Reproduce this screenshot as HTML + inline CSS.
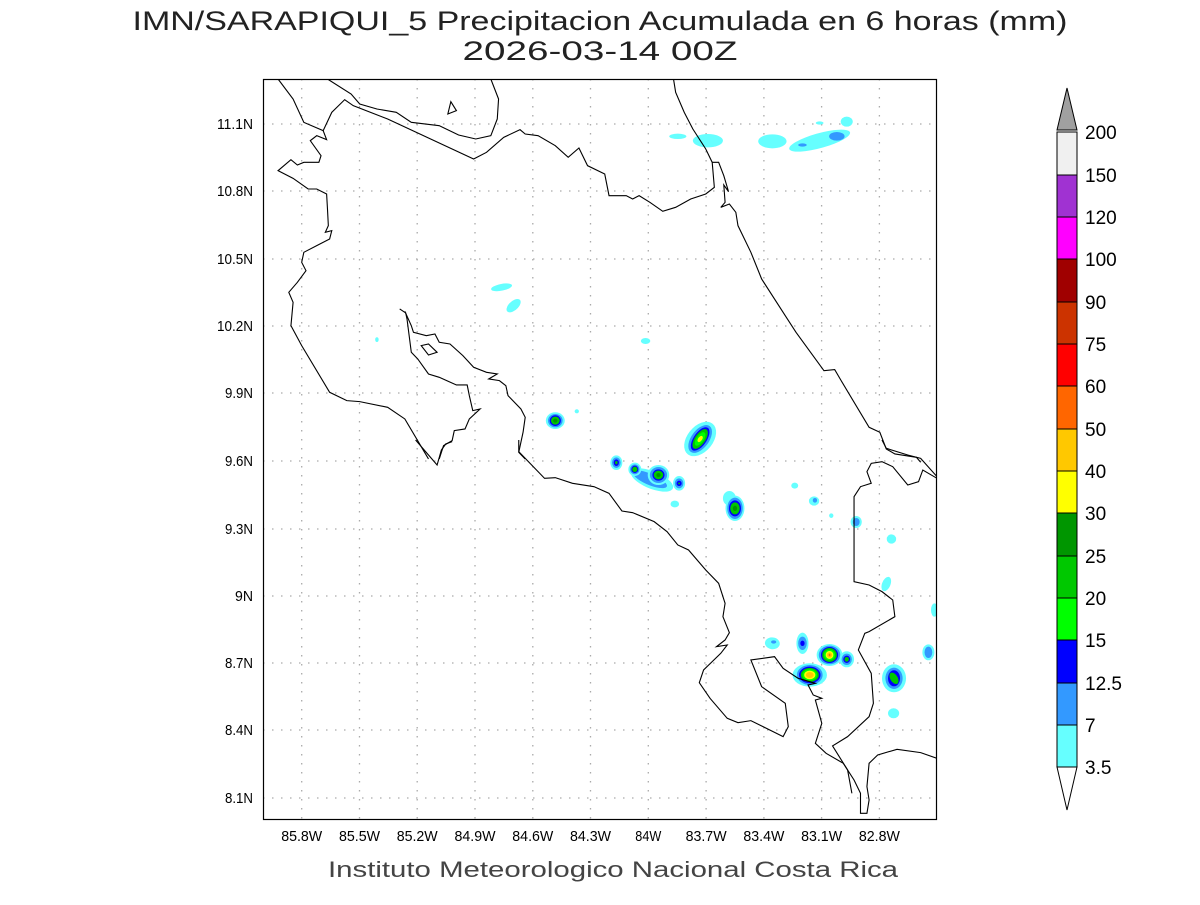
<!DOCTYPE html>
<html><head><meta charset="utf-8"><style>
body{margin:0;background:#fff;width:1200px;height:900px;overflow:hidden}
svg text{font-family:"Liberation Sans","DejaVu Sans",sans-serif}
</style></head><body>
<svg width="1200" height="900" viewBox="0 0 1200 900" xmlns="http://www.w3.org/2000/svg">
<text x="600" y="30" text-anchor="middle" font-size="27" fill="#222" textLength="935" lengthAdjust="spacingAndGlyphs">IMN/SARAPIQUI_5 Precipitacion Acumulada en 6 horas (mm)</text>
<text x="600" y="60" text-anchor="middle" font-size="27" fill="#222" textLength="275" lengthAdjust="spacingAndGlyphs">2026-03-14 00Z</text>
<text x="613" y="877" text-anchor="middle" font-size="22" fill="#444" textLength="570" lengthAdjust="spacingAndGlyphs">Instituto Meteorologico Nacional Costa Rica</text>

<clipPath id="c"><rect x="263" y="79" width="674" height="741"/></clipPath>
<g clip-path="url(#c)">
<g stroke="#aaa" stroke-width="1.3" stroke-dasharray="1.5 7.5">
<path d="M301.7 79V820M359.5 79V820M417.2 79V820M475 79V820M532.8 79V820M590.5 79V820M648.3 79V820M706.1 79V820M763.9 79V820M821.6 79V820M879.4 79V820"/>
<path d="M263 124H937M263 191H937M263 259H937M263 326H937M263 393H937M263 461H937M263 529H937M263 596H937M263 663H937M263 730H937M263 798H937"/>
</g>
<g transform="translate(263,79) scale(0.42985,0.3333)">
<ellipse cx="965" cy="172" rx="20" ry="8" fill="#66ffff"/>
<ellipse cx="1035" cy="185" rx="35" ry="20" fill="#66ffff"/>
<ellipse cx="1185" cy="187" rx="33" ry="21" fill="#66ffff"/>
<ellipse cx="1295" cy="185" rx="75" ry="22" transform="rotate(-20 1295 185)" fill="#66ffff"/>
<ellipse cx="1358" cy="128" rx="14" ry="15" fill="#66ffff"/>
<ellipse cx="1335" cy="172" rx="18" ry="13" fill="#3399ff"/>
<ellipse cx="1255" cy="198" rx="10" ry="5" fill="#3399ff"/>
<ellipse cx="1295" cy="132" rx="9" ry="5" fill="#66ffff"/>
<ellipse cx="555" cy="625" rx="25" ry="10" transform="rotate(-15 555 625)" fill="#66ffff"/>
<ellipse cx="583" cy="680" rx="12" ry="23" transform="rotate(35 583 680)" fill="#66ffff"/>
<ellipse cx="265" cy="782" rx="4" ry="7" fill="#66ffff"/>
<ellipse cx="890" cy="786" rx="11" ry="9" fill="#66ffff"/>
<ellipse cx="730" cy="997" rx="5" ry="6" fill="#66ffff"/>
<g transform="translate(680,1025)"><ellipse rx="22" ry="25" fill="#66ffff"/><ellipse rx="17" ry="20" fill="#3399ff"/><ellipse rx="13" ry="16" fill="#0000ff"/><ellipse rx="10" ry="12" fill="#00c800"/><ellipse rx="5" ry="6" fill="#009600"/></g>
<g transform="translate(1017,1080) rotate(25)"><ellipse rx="32" ry="55" fill="#66ffff"/><ellipse rx="22" ry="45" fill="#3399ff"/><ellipse rx="16" ry="38" fill="#0000ff"/><ellipse rx="13" ry="32" fill="#00c800"/><ellipse rx="9" ry="22" fill="#00ff00"/><ellipse rx="5" ry="10" fill="#ffff00"/></g>
</g>
<g transform="translate(263,440) scale(0.42985,0.3333)">
<g transform="translate(822,68)"><ellipse rx="14" ry="22" fill="#66ffff"/><ellipse rx="10" ry="16" fill="#3399ff"/><ellipse rx="6" ry="10" fill="#0000ff"/><ellipse rx="3" ry="5" fill="#00c800"/></g>
<ellipse cx="905" cy="120" rx="55" ry="25" transform="rotate(30 905 120)" fill="#66ffff"/>
<ellipse cx="900" cy="118" rx="45" ry="16" transform="rotate(30 900 118)" fill="#3399ff"/>
<g transform="translate(865,88)"><ellipse rx="15" ry="20" fill="#66ffff"/><ellipse rx="11" ry="15" fill="#3399ff"/><ellipse rx="8" ry="11" fill="#0000ff"/><ellipse rx="6" ry="8" fill="#00c800"/></g>
<g transform="translate(920,105)"><ellipse rx="25" ry="30" fill="#66ffff"/><ellipse rx="20" ry="24" fill="#3399ff"/><ellipse rx="14" ry="17" fill="#0000ff"/><ellipse rx="11" ry="13" fill="#00c800"/><ellipse rx="5" ry="6" fill="#009600"/></g>
<g transform="translate(968,130)"><ellipse rx="14" ry="22" fill="#66ffff"/><ellipse rx="10" ry="15" fill="#3399ff"/><ellipse rx="6" ry="8" fill="#0000ff"/><ellipse rx="2" ry="3" fill="#00c800"/></g>
<ellipse cx="958" cy="192" rx="10" ry="10" fill="#66ffff"/>
<ellipse cx="1085" cy="175" rx="15" ry="22" fill="#66ffff"/>
<g transform="translate(1098,205)"><ellipse rx="22" ry="38" fill="#66ffff"/><ellipse rx="18" ry="32" fill="#3399ff"/><ellipse rx="14" ry="24" fill="#0000ff"/><ellipse rx="11" ry="18" fill="#00c800"/><ellipse rx="5" ry="8" fill="#009600"/></g>
<ellipse cx="1237" cy="137" rx="8" ry="9" fill="#66ffff"/>
<ellipse cx="1282" cy="183" rx="12" ry="14" fill="#66ffff"/><ellipse cx="1284" cy="181" rx="5" ry="7" fill="#3399ff"/>
<ellipse cx="1322" cy="227" rx="5" ry="7" fill="#66ffff"/>
<ellipse cx="1380" cy="246" rx="13" ry="18" fill="#66ffff"/><ellipse cx="1380" cy="246" rx="8" ry="12" fill="#3399ff"/>
<ellipse cx="1462" cy="297" rx="11" ry="14" fill="#66ffff"/>
<ellipse cx="1450" cy="432" rx="10" ry="22" transform="rotate(15 1450 432)" fill="#66ffff"/>
<ellipse cx="1562" cy="510" rx="8" ry="20" fill="#66ffff"/>
<ellipse cx="1185" cy="610" rx="17" ry="18" transform="rotate(-30 1185 610)" fill="#66ffff"/><ellipse cx="1188" cy="606" rx="6" ry="5" fill="#3399ff"/>
<g transform="translate(1255,610)"><ellipse rx="14" ry="32" fill="#66ffff"/><ellipse rx="10" ry="20" fill="#3399ff"/><ellipse rx="5" ry="8" fill="#0000ff"/></g>
<g transform="translate(1318,645)"><ellipse rx="30" ry="33" fill="#66ffff"/><ellipse rx="25" ry="28" fill="#3399ff"/><ellipse rx="20" ry="24" fill="#0000ff"/><ellipse rx="17" ry="21" fill="#00c800"/><ellipse rx="13" ry="16" fill="#00ff00"/><ellipse rx="9" ry="12" fill="#ffff00"/><ellipse rx="6" ry="8" fill="#ffc800"/><ellipse rx="2" ry="4" fill="#ff6600"/></g>
<g transform="translate(1358,658)"><ellipse rx="17" ry="24" fill="#66ffff"/><ellipse rx="12" ry="17" fill="#3399ff"/><ellipse rx="8" ry="11" fill="#0000ff"/><ellipse rx="5" ry="7" fill="#00c800"/></g>
<g transform="translate(1272,705)"><ellipse rx="40" ry="35" fill="#66ffff"/><ellipse rx="30" ry="30" fill="#3399ff"/><ellipse rx="25" ry="25" fill="#0000ff"/><ellipse rx="21" ry="21" fill="#00c800"/><ellipse rx="17" ry="17" fill="#00ff00"/><ellipse rx="13" ry="13" fill="#ffff00"/><ellipse rx="9" ry="9" fill="#ffc800"/></g>
<g transform="translate(1468,715)"><ellipse rx="28" ry="42" fill="#66ffff"/><ellipse rx="20" ry="32" fill="#3399ff"/><ellipse rx="14" ry="24" fill="#0000ff"/><ellipse rx="9" ry="18" transform="rotate(-20)" fill="#00c800"/></g>
<g transform="translate(1548,637)"><ellipse rx="14" ry="24" fill="#66ffff"/><ellipse rx="9" ry="17" fill="#3399ff"/></g>
<ellipse cx="1467" cy="820" rx="13" ry="15" fill="#66ffff"/>
</g>
<g transform="translate(263,79) scale(0.42985,0.3333)" fill="none" stroke="#000" stroke-width="1.1">
<polyline vector-effect="non-scaling-stroke" points="150,0 205,45 225,75 265,90 310,100 345,130 410,140 455,168 495,180 530,170 545,120 548,60 530,0"/>
<polyline vector-effect="non-scaling-stroke" points="35,0 70,60 95,130 140,155 160,100 190,62 210,80 260,105 290,120 490,240 520,220 560,175 598,152 610,165 640,170 680,200 710,235 735,207 755,260 795,285 805,350 845,350 860,360 875,350 900,370 930,397 960,385 995,360 1030,345 1050,325 1045,250 1030,210 1000,150 980,100 960,40 955,0"/>
<polyline vector-effect="non-scaling-stroke" points="1045,250 1060,250 1072,290 1083,338 1072,318 1075,370 1065,385 1085,375 1100,400 1105,440 1135,520 1160,600 1215,710 1240,760 1305,875 1330,872 1345,905 1410,1045 1435,1060 1450,1110 1470,1125 1520,1135 1530,1150"/>
<polyline vector-effect="non-scaling-stroke" points="140,155 148,182 125,170 110,185 135,230 130,250 95,250 80,258 65,242 35,275 70,298 105,330 125,330 148,345 150,390 152,440 145,460 160,455 155,480 125,500 95,520 90,550 100,575 80,610 60,640 70,670 65,740 90,800 155,940 195,965 225,968 290,985 330,1020 385,1140"/>
<polyline vector-effect="non-scaling-stroke" points="318,690 332,702 335,720 345,820 360,840 385,885 410,895 450,918 475,918 480,950 488,995 505,990 480,1020 470,1050 445,1055 440,1085 420,1100 410,1140"/>
<polyline vector-effect="non-scaling-stroke" points="330,697 345,740 350,760 380,770 400,765 410,790 435,795 465,830 490,865 520,880 545,885 525,900 550,905 565,920 570,950 600,990 610,1015 605,1060 600,1090 595,1120 610,1140"/>
<polygon vector-effect="non-scaling-stroke" points="368,800 385,795 405,820 385,828"/>
<polygon vector-effect="non-scaling-stroke" points="430,105 437,68 450,95"/>
</g>
<g transform="translate(263,440) scale(0.42985,0.3333)" fill="none" stroke="#000" stroke-width="1.1">
<polyline vector-effect="non-scaling-stroke" points="355,0 385,45 405,75 415,30 425,12 440,5"/>
<polyline vector-effect="non-scaling-stroke" points="595,0 595,35 625,75 655,115 680,113 720,130 770,140 805,160 835,213 860,218 910,245 940,275 965,315 990,330 1030,390 1060,430 1075,490 1070,530 1085,578 1075,600 1055,620 1080,615 1065,640 1045,665 1025,690 1015,728 1040,775 1080,835 1105,848 1135,842 1210,890 1222,860 1215,790 1160,740 1135,660 1190,650 1210,685 1245,715 1285,730 1268,735 1280,765 1300,775 1285,780 1300,850 1285,910 1310,940 1350,970 1375,1020 1390,1060 1390,1120 1405,1120 1410,1080 1405,1040 1410,970 1430,945 1475,928 1530,938 1568,955"/>
<polyline vector-effect="non-scaling-stroke" points="1370,1060 1360,990 1325,918 1360,890 1410,830 1420,790 1415,700 1385,630 1400,580 1410,575 1470,530 1465,480 1440,455 1410,435 1375,425 1375,170 1390,140 1415,130 1405,95 1415,70 1440,65 1465,80 1500,135 1525,125 1535,90 1568,115"/>
<polyline vector-effect="non-scaling-stroke" points="1440,0 1450,25 1500,45 1530,55 1568,110"/>
</g>
</g>
<rect x="263.5" y="79.5" width="673" height="740" fill="none" stroke="#000" stroke-width="1.2"/>

<g font-size="15" fill="#000">
<g text-anchor="end">
<text x="253" y="129" textLength="36" lengthAdjust="spacingAndGlyphs">11.1N</text><text x="253" y="196" textLength="36" lengthAdjust="spacingAndGlyphs">10.8N</text><text x="253" y="264" textLength="36" lengthAdjust="spacingAndGlyphs">10.5N</text><text x="253" y="331" textLength="36" lengthAdjust="spacingAndGlyphs">10.2N</text><text x="253" y="398" textLength="28" lengthAdjust="spacingAndGlyphs">9.9N</text><text x="253" y="466" textLength="28" lengthAdjust="spacingAndGlyphs">9.6N</text><text x="253" y="534" textLength="28" lengthAdjust="spacingAndGlyphs">9.3N</text><text x="253" y="601" textLength="18" lengthAdjust="spacingAndGlyphs">9N</text><text x="253" y="668" textLength="28" lengthAdjust="spacingAndGlyphs">8.7N</text><text x="253" y="735" textLength="28" lengthAdjust="spacingAndGlyphs">8.4N</text><text x="253" y="803" textLength="28" lengthAdjust="spacingAndGlyphs">8.1N</text>
</g>
<g text-anchor="middle">
<text x="301.7" y="841" textLength="41" lengthAdjust="spacingAndGlyphs">85.8W</text><text x="359.5" y="841" textLength="41" lengthAdjust="spacingAndGlyphs">85.5W</text><text x="417.2" y="841" textLength="41" lengthAdjust="spacingAndGlyphs">85.2W</text><text x="475" y="841" textLength="41" lengthAdjust="spacingAndGlyphs">84.9W</text><text x="532.8" y="841" textLength="41" lengthAdjust="spacingAndGlyphs">84.6W</text><text x="590.5" y="841" textLength="41" lengthAdjust="spacingAndGlyphs">84.3W</text><text x="648.3" y="841" textLength="26" lengthAdjust="spacingAndGlyphs">84W</text><text x="706.1" y="841" textLength="41" lengthAdjust="spacingAndGlyphs">83.7W</text><text x="763.9" y="841" textLength="41" lengthAdjust="spacingAndGlyphs">83.4W</text><text x="821.6" y="841" textLength="41" lengthAdjust="spacingAndGlyphs">83.1W</text><text x="879.4" y="841" textLength="41" lengthAdjust="spacingAndGlyphs">82.8W</text>
</g>
</g>

<g stroke="#000" stroke-width="1">
<polygon points="1057,130 1067,88 1077,130" fill="#a0a0a0"/>
<rect x="1057" y="132" width="20" height="43" fill="#f0f0f0"/>
<rect x="1057" y="175" width="20" height="42" fill="#a032d2"/>
<rect x="1057" y="217" width="20" height="42" fill="#ff00ff"/>
<rect x="1057" y="259" width="20" height="43" fill="#a00000"/>
<rect x="1057" y="302" width="20" height="42" fill="#cc3300"/>
<rect x="1057" y="344" width="20" height="42" fill="#ff0000"/>
<rect x="1057" y="386" width="20" height="43" fill="#ff6600"/>
<rect x="1057" y="429" width="20" height="42" fill="#ffc800"/>
<rect x="1057" y="471" width="20" height="42" fill="#ffff00"/>
<rect x="1057" y="513" width="20" height="43" fill="#009600"/>
<rect x="1057" y="556" width="20" height="42" fill="#00c800"/>
<rect x="1057" y="598" width="20" height="42" fill="#00ff00"/>
<rect x="1057" y="640" width="20" height="43" fill="#0000ff"/>
<rect x="1057" y="683" width="20" height="42" fill="#3399ff"/>
<rect x="1057" y="725" width="20" height="42" fill="#66ffff"/>
<polygon points="1057,767 1067,810 1077,767" fill="#fff"/>
</g>
<g font-size="19" fill="#000">
<text x="1085" y="139">200</text><text x="1085" y="182">150</text><text x="1085" y="224">120</text><text x="1085" y="266">100</text><text x="1085" y="309">90</text><text x="1085" y="351">75</text><text x="1085" y="393">60</text><text x="1085" y="436">50</text><text x="1085" y="478">40</text><text x="1085" y="520">30</text><text x="1085" y="563">25</text><text x="1085" y="605">20</text><text x="1085" y="647">15</text><text x="1085" y="690">12.5</text><text x="1085" y="732">7</text><text x="1085" y="774">3.5</text>
</g>
</svg>
</body></html>
